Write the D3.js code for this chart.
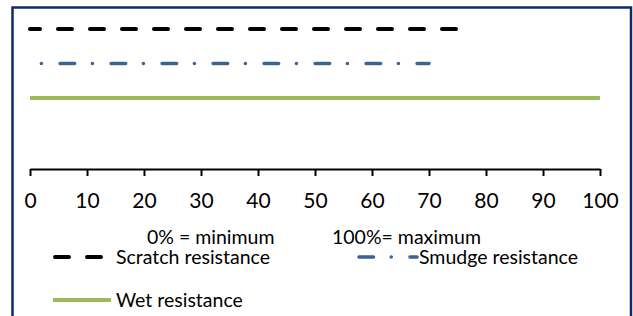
<!DOCTYPE html>
<html>
<head>
<meta charset="utf-8">
<script src="https://cdn.jsdelivr.net/npm/d3@7"></script>
<style>
  body { margin: 0; background: #fff; }
  svg { display: block; font-family: Lato, "Open Sans", sans-serif; }
</style>
</head>
<body>
<div id="chart"></div>
<script>
const width = 633;
const height = 316;

// series data (0..100 scale)
const seriesNames = ["Scratch resistance", "Smudge resistance", "Wet resistance"];
const seriesStart = [0, 2, 0];
const seriesEnd = [75, 70, 100];
const tickValues = [0, 10, 20, 30, 40, 50, 60, 70, 80, 90, 100];
const noteLabels = ["0% = minimum", "100%= maximum"];

const colors = ["#000000", "#3b6396", "#9bbb59"];
const widths = [4, 3.6, 4];
const dashes = ["14 18", "0 18.75 14.5 17.75", null];
const dashOffsets = [4, 0, 0];

const svg = d3.select("#chart")
    .append("svg")
    .attr("width", width)
    .attr("height", height);

// frame
svg.append("rect")
    .attr("x", 12.5)
    .attr("y", 7.5)
    .attr("width", 618.5)
    .attr("height", 320)
    .attr("fill", "none")
    .attr("stroke", "#0d2a68")
    .attr("stroke-width", 2.5);

const x = d3.scaleLinear().domain([0, 100]).range([30, 600]);
const y = d3.scalePoint().domain(seriesNames).range([29, 98]);

// series lines
svg.append("g")
    .selectAll("line")
    .data(seriesNames)
    .enter().append("line")
    .attr("x1", (d, i) => x(seriesStart[i]))
    .attr("x2", (d, i) => x(seriesEnd[i]))
    .attr("y1", d => y(d))
    .attr("y2", d => y(d))
    .attr("stroke", (d, i) => colors[i])
    .attr("stroke-width", (d, i) => widths[i])
    .attr("stroke-linecap", (d, i) => i === 2 ? "butt" : "round")
    .attr("stroke-dasharray", (d, i) => dashes[i])
    .attr("stroke-dashoffset", (d, i) => dashOffsets[i]);

// axis
const axis = svg.append("g")
    .attr("transform", "translate(0,169)")
    .call(d3.axisBottom(x).tickValues(tickValues).tickSize(7).tickSizeOuter(0).tickPadding(17));

axis.select(".domain").attr("stroke", "#000").attr("stroke-width", 2);
axis.selectAll(".tick line").attr("stroke", "#000").attr("stroke-width", 2);
axis.selectAll(".tick text")
    .attr("fill", "#000")
    .style("font-size", "21px")
    .style("font-family", "Lato, 'Open Sans', sans-serif");

// notes
svg.append("text").attr("x", 147).attr("y", 244).attr("font-size", 19.5).text(noteLabels[0]);
svg.append("text").attr("x", 332).attr("y", 244).attr("font-size", 19.5).text(noteLabels[1]);

// legend
const legendPos = [
    { sx: 55, ex: 103, ly: 257, tx: 116, off: 0 },
    { sx: 359, ex: 417, ly: 257, tx: 419, off: 18.75 },
    { sx: 53, ex: 111, ly: 300, tx: 116, off: 0 }
];

const legend = svg.append("g")
    .selectAll("g")
    .data(seriesNames)
    .enter().append("g");

legend.append("line")
    .attr("x1", (d, i) => legendPos[i].sx)
    .attr("x2", (d, i) => legendPos[i].ex)
    .attr("y1", (d, i) => legendPos[i].ly)
    .attr("y2", (d, i) => legendPos[i].ly)
    .attr("stroke", (d, i) => colors[i])
    .attr("stroke-width", (d, i) => widths[i])
    .attr("stroke-linecap", (d, i) => i === 2 ? "butt" : "round")
    .attr("stroke-dasharray", (d, i) => dashes[i])
    .attr("stroke-dashoffset", (d, i) => legendPos[i].off);

legend.append("text")
    .attr("x", (d, i) => legendPos[i].tx)
    .attr("y", (d, i) => legendPos[i].ly + 6.5)
    .attr("font-size", 19.5)
    .attr("fill", "#000")
    .text(d => d);
</script>
</body>
</html>
